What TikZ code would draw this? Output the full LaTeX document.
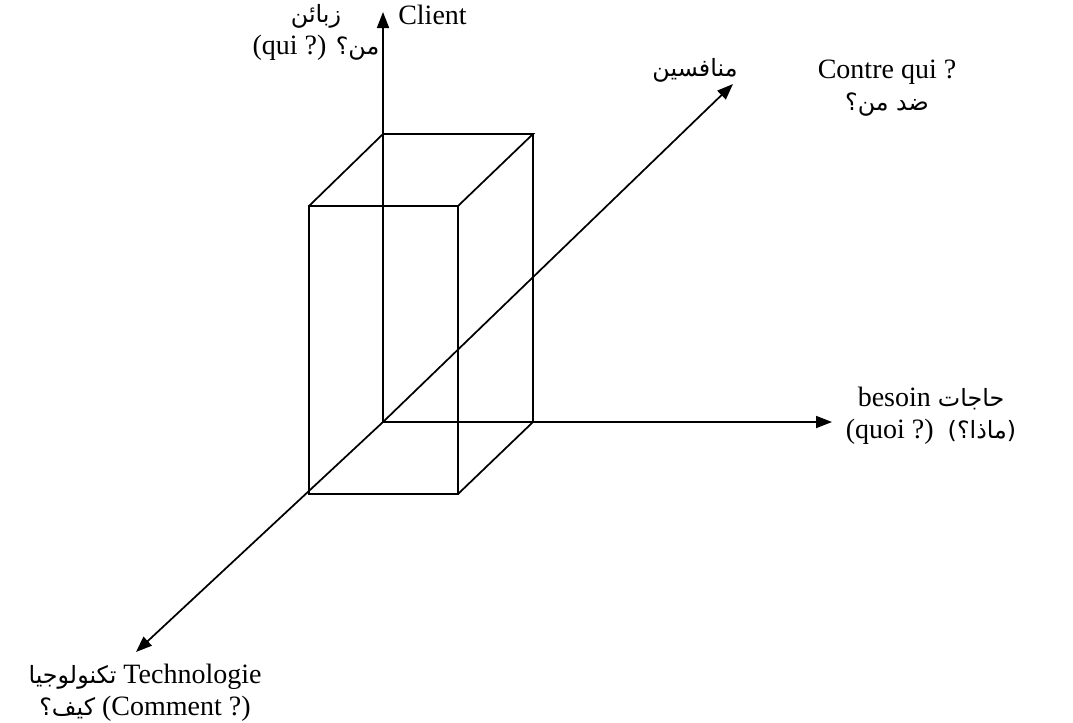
\documentclass[tikz,border=0pt]{standalone}
\usepackage{fontspec}
\setmainfont{Liberation Serif}
\newfontfamily\arabicfont[Script=Arabic,Scale=0.85]{DejaVu Sans}
\TeXXeTstate=1
\usetikzlibrary{arrows.meta}
\newcommand{\arab}[1]{{\arabicfont\beginR #1\endR}}

\begin{document}
\begin{tikzpicture}[x=0.75pt,y=-0.75pt,
    axis/.style={line width=1.3pt,-{Triangle[length=12pt,width=9pt]}},
    edge/.style={line width=1.3pt},
    lbl/.style={font=\fontsize{21}{24}\selectfont,align=center,inner sep=0pt}]
    \useasboundingbox (0,0) rectangle (1073,722);

    % axes
    \coordinate (O) at (383,422);
    \coordinate (client) at (383,12);
    \coordinate (besoin) at (832,422);
    \coordinate (concur) at (733,84);
    \coordinate (techno) at (136,652);
    \draw[axis] (O)--(client);
    \draw[axis] (O)--(besoin);
    \draw[axis] (O)--(concur);
    \draw[axis] (O)--(techno);

    % box
    \coordinate (b1) at (383,134); \coordinate (b2) at (533,134); \coordinate (b3) at (533,422);
    \coordinate (f1) at (309,206); \coordinate (f2) at (458,206);
    \coordinate (f3) at (458,494); \coordinate (f4) at (309,494);
    \draw[edge] (f1)--(f2)--(f3)--(f4)--cycle;
    \draw[edge] (f1)--(b1)--(b2)--(f2);
    \draw[edge] (b2)--(b3)--(f3);

    % labels
    \node[lbl, anchor=west] (lclient) at (398,15) {Client};
    \node[lbl] (lzabain) at (316,32) {\arab{زبائن}\\(qui ?) \arab{من؟}};
    \node[lbl] (lmunafis) at (695,70) {\arab{منافسين}};
    \node[lbl] (lcontre) at (887,88) {Contre qui ?\\\arab{ضد من؟}};
    \node[lbl] (lbesoin) at (931,416) {besoin \arab{حاجات}\\(quoi ?)\ \ \arab{(ماذا؟)}};
    \node[lbl] (ltechno) at (145,693) {\arab{تكنولوجيا} Technologie\\\arab{كيف؟} (Comment ?)};
\end{tikzpicture}
\end{document}
